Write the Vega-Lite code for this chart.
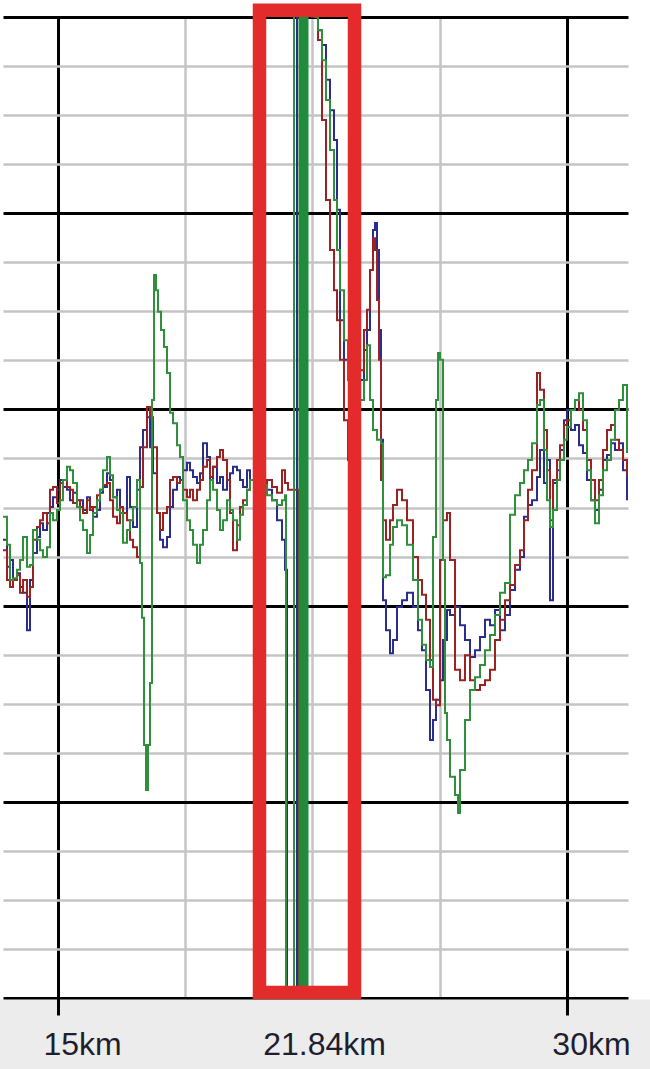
{
  "$schema": "https://vega.github.io/schema/vega-lite/v6.json",
  "width": 625,
  "height": 981,
  "autosize": {"type": "none"},
  "padding": {"left": 3, "top": 17, "right": 22, "bottom": 71},
  "background": "white",
  "config": {"view": {"stroke": null}},
  "resolve": {"axis": {"x": "independent", "y": "independent"}},
  "layer": [
    {
      "data": {"values": [{}]},
      "mark": {"type": "rect", "color": "#ececec"},
      "encoding": {
        "x": {
          "datum": 13.29,
          "type": "quantitative",
          "scale": {"domain": [13.379, 31.798], "nice": false, "zero": false},
          "axis": {
            "orient": "bottom",
            "values": [15, 21.84, 30],
            "grid": false,
            "domain": false,
            "ticks": true,
            "tickSize": 17,
            "tickWidth": 3,
            "tickColor": {"condition": {"test": "datum.value === 21.84", "value": "transparent"}, "value": "black"},
            "labelExpr": "datum.value + 'km'",
            "labelFont": "Liberation Sans",
            "labelFontSize": 32,
            "labelColor": "#1e1e2e",
            "labelPadding": 39,
            "labelBaseline": "alphabetic",
            "labelOffset": {"condition": {"test": "datum.value === 21.84", "value": 34}, "value": 24},
            "labelFlush": false,
            "labelOverlap": false,
            "labelBound": false,
            "title": null,
            "zindex": 1
          }
        },
        "x2": {"datum": 32.45},
        "y": {
          "datum": -0.032,
          "type": "quantitative",
          "scale": {"domain": [0, 20], "nice": false, "zero": false},
          "axis": null
        },
        "y2": {"datum": -1.45}
      }
    },
    {
      "data": {
        "values": [
          {"km": 13.379, "amp": 9.34, "trace": "blue"},
          {"km": 13.497, "amp": 8.79, "trace": "blue"},
          {"km": 13.585, "amp": 8.93, "trace": "blue"},
          {"km": 13.674, "amp": 8.52, "trace": "blue"},
          {"km": 13.792, "amp": 8.66, "trace": "blue"},
          {"km": 13.880, "amp": 8.38, "trace": "blue"},
          {"km": 13.969, "amp": 8.26, "trace": "blue"},
          {"km": 14.086, "amp": 7.50, "trace": "blue"},
          {"km": 14.175, "amp": 8.52, "trace": "blue"},
          {"km": 14.263, "amp": 9.07, "trace": "blue"},
          {"km": 14.381, "amp": 9.40, "trace": "blue"},
          {"km": 14.470, "amp": 9.68, "trace": "blue"},
          {"km": 14.558, "amp": 9.54, "trace": "blue"},
          {"km": 14.676, "amp": 9.89, "trace": "blue"},
          {"km": 14.764, "amp": 10.01, "trace": "blue"},
          {"km": 14.853, "amp": 10.21, "trace": "blue"},
          {"km": 14.971, "amp": 10.36, "trace": "blue"},
          {"km": 15.059, "amp": 10.56, "trace": "blue"},
          {"km": 15.147, "amp": 10.42, "trace": "blue"},
          {"km": 15.265, "amp": 10.36, "trace": "blue"},
          {"km": 15.354, "amp": 10.15, "trace": "blue"},
          {"km": 15.442, "amp": 10.30, "trace": "blue"},
          {"km": 15.560, "amp": 10.01, "trace": "blue"},
          {"km": 15.648, "amp": 10.15, "trace": "blue"},
          {"km": 15.737, "amp": 9.95, "trace": "blue"},
          {"km": 15.855, "amp": 10.21, "trace": "blue"},
          {"km": 15.943, "amp": 10.01, "trace": "blue"},
          {"km": 16.031, "amp": 9.81, "trace": "blue"},
          {"km": 16.149, "amp": 9.95, "trace": "blue"},
          {"km": 16.238, "amp": 10.30, "trace": "blue"},
          {"km": 16.326, "amp": 10.42, "trace": "blue"},
          {"km": 16.444, "amp": 10.70, "trace": "blue"},
          {"km": 16.532, "amp": 10.56, "trace": "blue"},
          {"km": 16.621, "amp": 10.21, "trace": "blue"},
          {"km": 16.739, "amp": 10.36, "trace": "blue"},
          {"km": 16.827, "amp": 10.01, "trace": "blue"},
          {"km": 16.915, "amp": 9.89, "trace": "blue"},
          {"km": 17.033, "amp": 10.62, "trace": "blue"},
          {"km": 17.122, "amp": 10.01, "trace": "blue"},
          {"km": 17.210, "amp": 9.60, "trace": "blue"},
          {"km": 17.328, "amp": 10.36, "trace": "blue"},
          {"km": 17.417, "amp": 11.23, "trace": "blue"},
          {"km": 17.505, "amp": 11.58, "trace": "blue"},
          {"km": 17.623, "amp": 11.84, "trace": "blue"},
          {"km": 17.711, "amp": 11.23, "trace": "blue"},
          {"km": 17.800, "amp": 10.70, "trace": "blue"},
          {"km": 17.918, "amp": 9.89, "trace": "blue"},
          {"km": 18.006, "amp": 9.34, "trace": "blue"},
          {"km": 18.094, "amp": 9.19, "trace": "blue"},
          {"km": 18.212, "amp": 9.40, "trace": "blue"},
          {"km": 18.301, "amp": 10.01, "trace": "blue"},
          {"km": 18.389, "amp": 10.36, "trace": "blue"},
          {"km": 18.507, "amp": 10.62, "trace": "blue"},
          {"km": 18.596, "amp": 10.56, "trace": "blue"},
          {"km": 18.684, "amp": 10.76, "trace": "blue"},
          {"km": 18.802, "amp": 10.91, "trace": "blue"},
          {"km": 18.890, "amp": 10.76, "trace": "blue"},
          {"km": 18.979, "amp": 10.62, "trace": "blue"},
          {"km": 19.097, "amp": 10.50, "trace": "blue"},
          {"km": 19.185, "amp": 10.70, "trace": "blue"},
          {"km": 19.273, "amp": 11.31, "trace": "blue"},
          {"km": 19.391, "amp": 11.03, "trace": "blue"},
          {"km": 19.480, "amp": 10.56, "trace": "blue"},
          {"km": 19.568, "amp": 10.83, "trace": "blue"},
          {"km": 19.686, "amp": 10.50, "trace": "blue"},
          {"km": 19.774, "amp": 10.62, "trace": "blue"},
          {"km": 19.863, "amp": 10.36, "trace": "blue"},
          {"km": 19.981, "amp": 10.56, "trace": "blue"},
          {"km": 20.069, "amp": 10.70, "trace": "blue"},
          {"km": 20.157, "amp": 10.83, "trace": "blue"},
          {"km": 20.275, "amp": 10.76, "trace": "blue"},
          {"km": 20.364, "amp": 10.56, "trace": "blue"},
          {"km": 20.452, "amp": 10.42, "trace": "blue"},
          {"km": 20.570, "amp": 10.76, "trace": "blue"},
          {"km": 20.658, "amp": 10.56, "trace": "blue"},
          {"km": 20.776, "amp": 10.76, "trace": "blue"},
          {"km": 20.894, "amp": 10.60, "trace": "blue"},
          {"km": 21.012, "amp": 10.56, "trace": "blue"},
          {"km": 21.160, "amp": 10.36, "trace": "blue"},
          {"km": 21.307, "amp": 10.15, "trace": "blue"},
          {"km": 21.454, "amp": 9.74, "trace": "blue"},
          {"km": 21.602, "amp": 9.34, "trace": "blue"},
          {"km": 21.690, "amp": 8.73, "trace": "blue"},
          {"km": 21.749, "amp": -1, "trace": "blue"},
          {"km": 22.043, "amp": 21, "trace": "blue"},
          {"km": 22.485, "amp": 20, "trace": "blue"},
          {"km": 22.662, "amp": 19.73, "trace": "blue"},
          {"km": 22.780, "amp": 19.43, "trace": "blue"},
          {"km": 22.898, "amp": 18.72, "trace": "blue"},
          {"km": 23.016, "amp": 18.10, "trace": "blue"},
          {"km": 23.134, "amp": 17.49, "trace": "blue"},
          {"km": 23.222, "amp": 16.07, "trace": "blue"},
          {"km": 23.311, "amp": 13.82, "trace": "blue"},
          {"km": 23.428, "amp": 13.01, "trace": "blue"},
          {"km": 23.546, "amp": 12.70, "trace": "blue"},
          {"km": 23.664, "amp": 12.19, "trace": "blue"},
          {"km": 23.782, "amp": 11.99, "trace": "blue"},
          {"km": 23.900, "amp": 12.60, "trace": "blue"},
          {"km": 24.018, "amp": 13.21, "trace": "blue"},
          {"km": 24.106, "amp": 13.62, "trace": "blue"},
          {"km": 24.195, "amp": 14.84, "trace": "blue"},
          {"km": 24.283, "amp": 15.66, "trace": "blue"},
          {"km": 24.342, "amp": 15.80, "trace": "blue"},
          {"km": 24.401, "amp": 15.25, "trace": "blue"},
          {"km": 24.460, "amp": 13.62, "trace": "blue"},
          {"km": 24.519, "amp": 11.38, "trace": "blue"},
          {"km": 24.578, "amp": 8.11, "trace": "blue"},
          {"km": 24.666, "amp": 7.50, "trace": "blue"},
          {"km": 24.784, "amp": 7.03, "trace": "blue"},
          {"km": 24.872, "amp": 7.30, "trace": "blue"},
          {"km": 24.990, "amp": 7.97, "trace": "blue"},
          {"km": 25.138, "amp": 8.11, "trace": "blue"},
          {"km": 25.285, "amp": 8.26, "trace": "blue"},
          {"km": 25.462, "amp": 7.97, "trace": "blue"},
          {"km": 25.609, "amp": 7.50, "trace": "blue"},
          {"km": 25.727, "amp": 7.09, "trace": "blue"},
          {"km": 25.845, "amp": 6.28, "trace": "blue"},
          {"km": 25.963, "amp": 5.26, "trace": "blue"},
          {"km": 26.051, "amp": 5.67, "trace": "blue"},
          {"km": 26.140, "amp": 6.08, "trace": "blue"},
          {"km": 26.258, "amp": 6.48, "trace": "blue"},
          {"km": 26.346, "amp": 7.30, "trace": "blue"},
          {"km": 26.464, "amp": 7.91, "trace": "blue"},
          {"km": 26.552, "amp": 7.81, "trace": "blue"},
          {"km": 26.700, "amp": 7.97, "trace": "blue"},
          {"km": 26.847, "amp": 7.60, "trace": "blue"},
          {"km": 26.994, "amp": 7.30, "trace": "blue"},
          {"km": 27.142, "amp": 6.95, "trace": "blue"},
          {"km": 27.289, "amp": 7.09, "trace": "blue"},
          {"km": 27.436, "amp": 7.36, "trace": "blue"},
          {"km": 27.584, "amp": 7.71, "trace": "blue"},
          {"km": 27.731, "amp": 7.60, "trace": "blue"},
          {"km": 27.878, "amp": 7.91, "trace": "blue"},
          {"km": 28.026, "amp": 7.50, "trace": "blue"},
          {"km": 28.173, "amp": 7.81, "trace": "blue"},
          {"km": 28.320, "amp": 8.32, "trace": "blue"},
          {"km": 28.468, "amp": 8.73, "trace": "blue"},
          {"km": 28.615, "amp": 8.99, "trace": "blue"},
          {"km": 28.733, "amp": 9.81, "trace": "blue"},
          {"km": 28.851, "amp": 10.05, "trace": "blue"},
          {"km": 28.969, "amp": 10.15, "trace": "blue"},
          {"km": 29.116, "amp": 10.62, "trace": "blue"},
          {"km": 29.205, "amp": 11.17, "trace": "blue"},
          {"km": 29.322, "amp": 10.50, "trace": "blue"},
          {"km": 29.411, "amp": 10.97, "trace": "blue"},
          {"km": 29.499, "amp": 8.11, "trace": "blue"},
          {"km": 29.588, "amp": 10.50, "trace": "blue"},
          {"km": 29.706, "amp": 10.76, "trace": "blue"},
          {"km": 29.794, "amp": 11.17, "trace": "blue"},
          {"km": 29.912, "amp": 11.78, "trace": "blue"},
          {"km": 30.000, "amp": 11.99, "trace": "blue"},
          {"km": 30.118, "amp": 11.58, "trace": "blue"},
          {"km": 30.236, "amp": 11.68, "trace": "blue"},
          {"km": 30.354, "amp": 11.27, "trace": "blue"},
          {"km": 30.472, "amp": 11.11, "trace": "blue"},
          {"km": 30.590, "amp": 10.56, "trace": "blue"},
          {"km": 30.708, "amp": 10.15, "trace": "blue"},
          {"km": 30.825, "amp": 9.95, "trace": "blue"},
          {"km": 30.943, "amp": 10.36, "trace": "blue"},
          {"km": 31.061, "amp": 10.97, "trace": "blue"},
          {"km": 31.179, "amp": 11.07, "trace": "blue"},
          {"km": 31.297, "amp": 11.31, "trace": "blue"},
          {"km": 31.415, "amp": 11.17, "trace": "blue"},
          {"km": 31.533, "amp": 11.31, "trace": "blue"},
          {"km": 31.651, "amp": 10.76, "trace": "blue"},
          {"km": 31.768, "amp": 10.15, "trace": "blue"},

          {"km": 13.379, "amp": 9.13, "trace": "red"},
          {"km": 13.497, "amp": 8.52, "trace": "red"},
          {"km": 13.585, "amp": 8.38, "trace": "red"},
          {"km": 13.674, "amp": 8.52, "trace": "red"},
          {"km": 13.792, "amp": 8.62, "trace": "red"},
          {"km": 13.880, "amp": 8.26, "trace": "red"},
          {"km": 13.969, "amp": 8.52, "trace": "red"},
          {"km": 14.086, "amp": 8.18, "trace": "red"},
          {"km": 14.175, "amp": 8.38, "trace": "red"},
          {"km": 14.263, "amp": 9.34, "trace": "red"},
          {"km": 14.381, "amp": 9.60, "trace": "red"},
          {"km": 14.470, "amp": 9.74, "trace": "red"},
          {"km": 14.558, "amp": 9.89, "trace": "red"},
          {"km": 14.676, "amp": 9.68, "trace": "red"},
          {"km": 14.764, "amp": 10.36, "trace": "red"},
          {"km": 14.853, "amp": 10.42, "trace": "red"},
          {"km": 14.971, "amp": 10.09, "trace": "red"},
          {"km": 15.059, "amp": 10.50, "trace": "red"},
          {"km": 15.147, "amp": 10.56, "trace": "red"},
          {"km": 15.265, "amp": 10.42, "trace": "red"},
          {"km": 15.354, "amp": 10.36, "trace": "red"},
          {"km": 15.442, "amp": 10.09, "trace": "red"},
          {"km": 15.560, "amp": 10.15, "trace": "red"},
          {"km": 15.648, "amp": 10.01, "trace": "red"},
          {"km": 15.737, "amp": 9.89, "trace": "red"},
          {"km": 15.855, "amp": 10.15, "trace": "red"},
          {"km": 15.943, "amp": 9.95, "trace": "red"},
          {"km": 16.031, "amp": 10.01, "trace": "red"},
          {"km": 16.149, "amp": 10.25, "trace": "red"},
          {"km": 16.238, "amp": 10.36, "trace": "red"},
          {"km": 16.326, "amp": 10.46, "trace": "red"},
          {"km": 16.444, "amp": 10.50, "trace": "red"},
          {"km": 16.532, "amp": 10.15, "trace": "red"},
          {"km": 16.621, "amp": 9.81, "trace": "red"},
          {"km": 16.739, "amp": 9.68, "trace": "red"},
          {"km": 16.827, "amp": 10.01, "trace": "red"},
          {"km": 16.915, "amp": 9.89, "trace": "red"},
          {"km": 17.033, "amp": 9.74, "trace": "red"},
          {"km": 17.122, "amp": 9.34, "trace": "red"},
          {"km": 17.210, "amp": 9.19, "trace": "red"},
          {"km": 17.328, "amp": 8.99, "trace": "red"},
          {"km": 17.417, "amp": 10.42, "trace": "red"},
          {"km": 17.505, "amp": 11.23, "trace": "red"},
          {"km": 17.623, "amp": 12.05, "trace": "red"},
          {"km": 17.711, "amp": 11.84, "trace": "red"},
          {"km": 17.800, "amp": 11.23, "trace": "red"},
          {"km": 17.918, "amp": 9.89, "trace": "red"},
          {"km": 18.006, "amp": 9.54, "trace": "red"},
          {"km": 18.094, "amp": 9.89, "trace": "red"},
          {"km": 18.212, "amp": 10.01, "trace": "red"},
          {"km": 18.301, "amp": 10.56, "trace": "red"},
          {"km": 18.389, "amp": 10.62, "trace": "red"},
          {"km": 18.507, "amp": 10.50, "trace": "red"},
          {"km": 18.596, "amp": 10.56, "trace": "red"},
          {"km": 18.684, "amp": 10.36, "trace": "red"},
          {"km": 18.802, "amp": 10.21, "trace": "red"},
          {"km": 18.890, "amp": 10.36, "trace": "red"},
          {"km": 18.979, "amp": 10.15, "trace": "red"},
          {"km": 19.097, "amp": 10.36, "trace": "red"},
          {"km": 19.185, "amp": 10.56, "trace": "red"},
          {"km": 19.273, "amp": 10.83, "trace": "red"},
          {"km": 19.391, "amp": 10.97, "trace": "red"},
          {"km": 19.480, "amp": 10.62, "trace": "red"},
          {"km": 19.568, "amp": 10.83, "trace": "red"},
          {"km": 19.686, "amp": 11.03, "trace": "red"},
          {"km": 19.774, "amp": 11.17, "trace": "red"},
          {"km": 19.863, "amp": 10.97, "trace": "red"},
          {"km": 19.981, "amp": 10.56, "trace": "red"},
          {"km": 20.069, "amp": 9.89, "trace": "red"},
          {"km": 20.157, "amp": 9.13, "trace": "red"},
          {"km": 20.275, "amp": 9.64, "trace": "red"},
          {"km": 20.364, "amp": 10.01, "trace": "red"},
          {"km": 20.452, "amp": 10.15, "trace": "red"},
          {"km": 20.570, "amp": 10.36, "trace": "red"},
          {"km": 20.658, "amp": 10.56, "trace": "red"},
          {"km": 20.776, "amp": 10.66, "trace": "red"},
          {"km": 20.894, "amp": 10.46, "trace": "red"},
          {"km": 21.012, "amp": 10.36, "trace": "red"},
          {"km": 21.160, "amp": 10.56, "trace": "red"},
          {"km": 21.307, "amp": 10.42, "trace": "red"},
          {"km": 21.454, "amp": 10.30, "trace": "red"},
          {"km": 21.602, "amp": 10.76, "trace": "red"},
          {"km": 21.690, "amp": 10.50, "trace": "red"},
          {"km": 21.778, "amp": 10.36, "trace": "red"},
          {"km": 22.102, "amp": -1, "trace": "red"},
          {"km": 22.161, "amp": 21, "trace": "red"},
          {"km": 22.544, "amp": 20, "trace": "red"},
          {"km": 22.662, "amp": 19.53, "trace": "red"},
          {"km": 22.780, "amp": 17.90, "trace": "red"},
          {"km": 22.898, "amp": 16.27, "trace": "red"},
          {"km": 23.016, "amp": 15.25, "trace": "red"},
          {"km": 23.134, "amp": 14.43, "trace": "red"},
          {"km": 23.222, "amp": 13.82, "trace": "red"},
          {"km": 23.311, "amp": 13.01, "trace": "red"},
          {"km": 23.428, "amp": 11.78, "trace": "red"},
          {"km": 23.546, "amp": 10.97, "trace": "red"},
          {"km": 23.664, "amp": 11.78, "trace": "red"},
          {"km": 23.782, "amp": 12.40, "trace": "red"},
          {"km": 23.900, "amp": 12.80, "trace": "red"},
          {"km": 24.018, "amp": 13.62, "trace": "red"},
          {"km": 24.106, "amp": 14.03, "trace": "red"},
          {"km": 24.195, "amp": 14.84, "trace": "red"},
          {"km": 24.283, "amp": 15.49, "trace": "red"},
          {"km": 24.342, "amp": 15.25, "trace": "red"},
          {"km": 24.401, "amp": 14.23, "trace": "red"},
          {"km": 24.460, "amp": 13.01, "trace": "red"},
          {"km": 24.519, "amp": 10.56, "trace": "red"},
          {"km": 24.578, "amp": 9.74, "trace": "red"},
          {"km": 24.666, "amp": 9.34, "trace": "red"},
          {"km": 24.784, "amp": 9.74, "trace": "red"},
          {"km": 24.872, "amp": 10.05, "trace": "red"},
          {"km": 24.990, "amp": 10.36, "trace": "red"},
          {"km": 25.138, "amp": 10.15, "trace": "red"},
          {"km": 25.285, "amp": 9.74, "trace": "red"},
          {"km": 25.462, "amp": 8.99, "trace": "red"},
          {"km": 25.609, "amp": 8.52, "trace": "red"},
          {"km": 25.727, "amp": 8.22, "trace": "red"},
          {"km": 25.845, "amp": 7.71, "trace": "red"},
          {"km": 25.963, "amp": 6.89, "trace": "red"},
          {"km": 26.051, "amp": 6.08, "trace": "red"},
          {"km": 26.140, "amp": 5.97, "trace": "red"},
          {"km": 26.258, "amp": 8.93, "trace": "red"},
          {"km": 26.346, "amp": 9.74, "trace": "red"},
          {"km": 26.464, "amp": 9.89, "trace": "red"},
          {"km": 26.552, "amp": 8.93, "trace": "red"},
          {"km": 26.700, "amp": 6.69, "trace": "red"},
          {"km": 26.847, "amp": 6.48, "trace": "red"},
          {"km": 26.994, "amp": 6.99, "trace": "red"},
          {"km": 27.142, "amp": 6.48, "trace": "red"},
          {"km": 27.289, "amp": 6.28, "trace": "red"},
          {"km": 27.436, "amp": 6.38, "trace": "red"},
          {"km": 27.584, "amp": 6.48, "trace": "red"},
          {"km": 27.731, "amp": 6.69, "trace": "red"},
          {"km": 27.878, "amp": 7.30, "trace": "red"},
          {"km": 28.026, "amp": 7.71, "trace": "red"},
          {"km": 28.173, "amp": 8.11, "trace": "red"},
          {"km": 28.320, "amp": 8.42, "trace": "red"},
          {"km": 28.468, "amp": 8.83, "trace": "red"},
          {"km": 28.615, "amp": 9.13, "trace": "red"},
          {"km": 28.733, "amp": 9.74, "trace": "red"},
          {"km": 28.851, "amp": 10.36, "trace": "red"},
          {"km": 28.969, "amp": 10.76, "trace": "red"},
          {"km": 29.116, "amp": 12.74, "trace": "red"},
          {"km": 29.205, "amp": 12.40, "trace": "red"},
          {"km": 29.322, "amp": 11.58, "trace": "red"},
          {"km": 29.411, "amp": 10.76, "trace": "red"},
          {"km": 29.499, "amp": 9.74, "trace": "red"},
          {"km": 29.588, "amp": 10.56, "trace": "red"},
          {"km": 29.706, "amp": 10.97, "trace": "red"},
          {"km": 29.794, "amp": 11.27, "trace": "red"},
          {"km": 29.912, "amp": 11.68, "trace": "red"},
          {"km": 30.000, "amp": 11.78, "trace": "red"},
          {"km": 30.118, "amp": 11.99, "trace": "red"},
          {"km": 30.236, "amp": 12.19, "trace": "red"},
          {"km": 30.354, "amp": 11.99, "trace": "red"},
          {"km": 30.472, "amp": 11.58, "trace": "red"},
          {"km": 30.590, "amp": 10.97, "trace": "red"},
          {"km": 30.708, "amp": 10.56, "trace": "red"},
          {"km": 30.825, "amp": 10.15, "trace": "red"},
          {"km": 30.943, "amp": 10.56, "trace": "red"},
          {"km": 31.061, "amp": 11.17, "trace": "red"},
          {"km": 31.179, "amp": 11.58, "trace": "red"},
          {"km": 31.297, "amp": 11.68, "trace": "red"},
          {"km": 31.415, "amp": 11.38, "trace": "red"},
          {"km": 31.533, "amp": 11.17, "trace": "red"},
          {"km": 31.651, "amp": 10.97, "trace": "red"},
          {"km": 31.768, "amp": 10.66, "trace": "red"},

          {"km": 13.379, "amp": 9.81, "trace": "green"},
          {"km": 13.497, "amp": 9.24, "trace": "green"},
          {"km": 13.585, "amp": 8.52, "trace": "green"},
          {"km": 13.674, "amp": 8.56, "trace": "green"},
          {"km": 13.792, "amp": 8.73, "trace": "green"},
          {"km": 13.880, "amp": 8.93, "trace": "green"},
          {"km": 13.969, "amp": 9.40, "trace": "green"},
          {"km": 14.086, "amp": 8.79, "trace": "green"},
          {"km": 14.175, "amp": 8.83, "trace": "green"},
          {"km": 14.263, "amp": 9.54, "trace": "green"},
          {"km": 14.381, "amp": 9.34, "trace": "green"},
          {"km": 14.470, "amp": 9.13, "trace": "green"},
          {"km": 14.558, "amp": 8.99, "trace": "green"},
          {"km": 14.676, "amp": 9.19, "trace": "green"},
          {"km": 14.764, "amp": 9.89, "trace": "green"},
          {"km": 14.853, "amp": 9.74, "trace": "green"},
          {"km": 14.971, "amp": 9.95, "trace": "green"},
          {"km": 15.059, "amp": 10.15, "trace": "green"},
          {"km": 15.147, "amp": 10.56, "trace": "green"},
          {"km": 15.265, "amp": 10.83, "trace": "green"},
          {"km": 15.354, "amp": 10.76, "trace": "green"},
          {"km": 15.442, "amp": 10.50, "trace": "green"},
          {"km": 15.560, "amp": 10.01, "trace": "green"},
          {"km": 15.648, "amp": 9.74, "trace": "green"},
          {"km": 15.737, "amp": 9.54, "trace": "green"},
          {"km": 15.855, "amp": 9.07, "trace": "green"},
          {"km": 15.943, "amp": 9.44, "trace": "green"},
          {"km": 16.031, "amp": 9.89, "trace": "green"},
          {"km": 16.149, "amp": 10.15, "trace": "green"},
          {"km": 16.238, "amp": 10.36, "trace": "green"},
          {"km": 16.326, "amp": 10.76, "trace": "green"},
          {"km": 16.444, "amp": 11.03, "trace": "green"},
          {"km": 16.532, "amp": 10.66, "trace": "green"},
          {"km": 16.621, "amp": 10.21, "trace": "green"},
          {"km": 16.739, "amp": 9.95, "trace": "green"},
          {"km": 16.827, "amp": 9.89, "trace": "green"},
          {"km": 16.915, "amp": 9.28, "trace": "green"},
          {"km": 17.033, "amp": 9.54, "trace": "green"},
          {"km": 17.122, "amp": 9.74, "trace": "green"},
          {"km": 17.210, "amp": 10.01, "trace": "green"},
          {"km": 17.328, "amp": 10.56, "trace": "green"},
          {"km": 17.417, "amp": 8.87, "trace": "green"},
          {"km": 17.475, "amp": 7.75, "trace": "green"},
          {"km": 17.534, "amp": 5.16, "trace": "green"},
          {"km": 17.593, "amp": 4.24, "trace": "green"},
          {"km": 17.652, "amp": 5.16, "trace": "green"},
          {"km": 17.711, "amp": 6.42, "trace": "green"},
          {"km": 17.770, "amp": 12.19, "trace": "green"},
          {"km": 17.829, "amp": 14.74, "trace": "green"},
          {"km": 17.888, "amp": 14.43, "trace": "green"},
          {"km": 17.947, "amp": 13.99, "trace": "green"},
          {"km": 18.035, "amp": 13.62, "trace": "green"},
          {"km": 18.124, "amp": 13.27, "trace": "green"},
          {"km": 18.212, "amp": 12.74, "trace": "green"},
          {"km": 18.301, "amp": 11.93, "trace": "green"},
          {"km": 18.389, "amp": 11.72, "trace": "green"},
          {"km": 18.507, "amp": 11.27, "trace": "green"},
          {"km": 18.596, "amp": 11.03, "trace": "green"},
          {"km": 18.684, "amp": 10.15, "trace": "green"},
          {"km": 18.802, "amp": 9.74, "trace": "green"},
          {"km": 18.890, "amp": 9.54, "trace": "green"},
          {"km": 18.979, "amp": 9.24, "trace": "green"},
          {"km": 19.097, "amp": 8.87, "trace": "green"},
          {"km": 19.185, "amp": 9.24, "trace": "green"},
          {"km": 19.273, "amp": 9.54, "trace": "green"},
          {"km": 19.391, "amp": 10.15, "trace": "green"},
          {"km": 19.480, "amp": 10.56, "trace": "green"},
          {"km": 19.568, "amp": 10.36, "trace": "green"},
          {"km": 19.686, "amp": 9.95, "trace": "green"},
          {"km": 19.774, "amp": 9.54, "trace": "green"},
          {"km": 19.863, "amp": 9.74, "trace": "green"},
          {"km": 19.981, "amp": 10.15, "trace": "green"},
          {"km": 20.069, "amp": 9.95, "trace": "green"},
          {"km": 20.157, "amp": 9.74, "trace": "green"},
          {"km": 20.275, "amp": 9.34, "trace": "green"},
          {"km": 20.364, "amp": 9.85, "trace": "green"},
          {"km": 20.452, "amp": 10.05, "trace": "green"},
          {"km": 20.570, "amp": 10.36, "trace": "green"},
          {"km": 20.658, "amp": 10.56, "trace": "green"},
          {"km": 20.776, "amp": 10.66, "trace": "green"},
          {"km": 20.894, "amp": 10.36, "trace": "green"},
          {"km": 21.012, "amp": 10.46, "trace": "green"},
          {"km": 21.160, "amp": 10.25, "trace": "green"},
          {"km": 21.307, "amp": 10.15, "trace": "green"},
          {"km": 21.454, "amp": 10.05, "trace": "green"},
          {"km": 21.602, "amp": 10.15, "trace": "green"},
          {"km": 21.690, "amp": 10.25, "trace": "green"},
          {"km": 21.719, "amp": -1, "trace": "green"},
          {"km": 21.955, "amp": 21, "trace": "green"},
          {"km": 22.603, "amp": 20, "trace": "green"},
          {"km": 22.662, "amp": 19.73, "trace": "green"},
          {"km": 22.780, "amp": 19.12, "trace": "green"},
          {"km": 22.898, "amp": 18.31, "trace": "green"},
          {"km": 23.016, "amp": 17.29, "trace": "green"},
          {"km": 23.134, "amp": 16.27, "trace": "green"},
          {"km": 23.222, "amp": 15.25, "trace": "green"},
          {"km": 23.311, "amp": 14.43, "trace": "green"},
          {"km": 23.428, "amp": 13.41, "trace": "green"},
          {"km": 23.546, "amp": 12.60, "trace": "green"},
          {"km": 23.664, "amp": 11.78, "trace": "green"},
          {"km": 23.782, "amp": 11.78, "trace": "green"},
          {"km": 23.900, "amp": 12.19, "trace": "green"},
          {"km": 24.018, "amp": 12.60, "trace": "green"},
          {"km": 24.106, "amp": 13.31, "trace": "green"},
          {"km": 24.195, "amp": 12.19, "trace": "green"},
          {"km": 24.283, "amp": 11.58, "trace": "green"},
          {"km": 24.401, "amp": 11.38, "trace": "green"},
          {"km": 24.519, "amp": 11.31, "trace": "green"},
          {"km": 24.578, "amp": 8.58, "trace": "green"},
          {"km": 24.666, "amp": 8.62, "trace": "green"},
          {"km": 24.784, "amp": 9.24, "trace": "green"},
          {"km": 24.872, "amp": 9.60, "trace": "green"},
          {"km": 24.990, "amp": 9.74, "trace": "green"},
          {"km": 25.138, "amp": 9.64, "trace": "green"},
          {"km": 25.285, "amp": 9.24, "trace": "green"},
          {"km": 25.462, "amp": 8.52, "trace": "green"},
          {"km": 25.609, "amp": 7.71, "trace": "green"},
          {"km": 25.727, "amp": 7.20, "trace": "green"},
          {"km": 25.845, "amp": 6.89, "trace": "green"},
          {"km": 25.963, "amp": 6.75, "trace": "green"},
          {"km": 26.051, "amp": 9.40, "trace": "green"},
          {"km": 26.140, "amp": 12.19, "trace": "green"},
          {"km": 26.199, "amp": 13.15, "trace": "green"},
          {"km": 26.258, "amp": 13.01, "trace": "green"},
          {"km": 26.346, "amp": 8.93, "trace": "green"},
          {"km": 26.405, "amp": 5.81, "trace": "green"},
          {"km": 26.464, "amp": 5.26, "trace": "green"},
          {"km": 26.552, "amp": 4.51, "trace": "green"},
          {"km": 26.700, "amp": 4.14, "trace": "green"},
          {"km": 26.788, "amp": 3.77, "trace": "green"},
          {"km": 26.847, "amp": 4.65, "trace": "green"},
          {"km": 26.994, "amp": 5.67, "trace": "green"},
          {"km": 27.142, "amp": 6.28, "trace": "green"},
          {"km": 27.289, "amp": 6.54, "trace": "green"},
          {"km": 27.436, "amp": 6.79, "trace": "green"},
          {"km": 27.584, "amp": 7.09, "trace": "green"},
          {"km": 27.731, "amp": 7.40, "trace": "green"},
          {"km": 27.878, "amp": 7.81, "trace": "green"},
          {"km": 28.026, "amp": 8.26, "trace": "green"},
          {"km": 28.173, "amp": 8.46, "trace": "green"},
          {"km": 28.320, "amp": 9.85, "trace": "green"},
          {"km": 28.468, "amp": 10.25, "trace": "green"},
          {"km": 28.615, "amp": 10.50, "trace": "green"},
          {"km": 28.733, "amp": 10.76, "trace": "green"},
          {"km": 28.851, "amp": 10.97, "trace": "green"},
          {"km": 28.969, "amp": 11.31, "trace": "green"},
          {"km": 29.116, "amp": 12.09, "trace": "green"},
          {"km": 29.205, "amp": 12.19, "trace": "green"},
          {"km": 29.322, "amp": 11.17, "trace": "green"},
          {"km": 29.411, "amp": 10.15, "trace": "green"},
          {"km": 29.499, "amp": 9.60, "trace": "green"},
          {"km": 29.588, "amp": 9.95, "trace": "green"},
          {"km": 29.706, "amp": 10.56, "trace": "green"},
          {"km": 29.794, "amp": 10.97, "trace": "green"},
          {"km": 29.912, "amp": 11.38, "trace": "green"},
          {"km": 30.000, "amp": 11.64, "trace": "green"},
          {"km": 30.118, "amp": 11.99, "trace": "green"},
          {"km": 30.236, "amp": 12.19, "trace": "green"},
          {"km": 30.354, "amp": 12.33, "trace": "green"},
          {"km": 30.472, "amp": 11.78, "trace": "green"},
          {"km": 30.590, "amp": 10.76, "trace": "green"},
          {"km": 30.708, "amp": 10.15, "trace": "green"},
          {"km": 30.825, "amp": 9.68, "trace": "green"},
          {"km": 30.943, "amp": 10.25, "trace": "green"},
          {"km": 31.061, "amp": 10.76, "trace": "green"},
          {"km": 31.179, "amp": 10.97, "trace": "green"},
          {"km": 31.297, "amp": 11.38, "trace": "green"},
          {"km": 31.415, "amp": 11.99, "trace": "green"},
          {"km": 31.533, "amp": 12.19, "trace": "green"},
          {"km": 31.651, "amp": 12.50, "trace": "green"},
          {"km": 31.768, "amp": 11.11, "trace": "green"}
        ]
      },
      "mark": {"type": "line", "interpolate": "step-after", "strokeWidth": 2, "clip": true},
      "encoding": {
        "x": {
          "field": "km",
          "type": "quantitative",
          "scale": {"domain": [13.379, 31.798], "nice": false, "zero": false},
          "axis": {
            "orient": "top",
            "values": [15, 18.75, 22.5, 26.25, 30],
            "grid": true,
            "gridColor": {"condition": {"test": "datum.value === 15 || datum.value === 30", "value": "black"}, "value": "#c4c4c4"},
            "gridWidth": {"condition": {"test": "datum.value === 15 || datum.value === 30", "value": 3}, "value": 2.5},
            "gridOpacity": 1,
            "ticks": false,
            "labels": false,
            "domain": false,
            "title": null,
            "zindex": 0
          }
        },
        "y": {
          "field": "amp",
          "type": "quantitative",
          "scale": {"domain": [0, 20], "nice": false, "zero": false},
          "axis": {
            "orient": "left",
            "values": [0, 1, 2, 3, 4, 5, 6, 7, 8, 9, 10, 11, 12, 13, 14, 15, 16, 17, 18, 19, 20],
            "grid": true,
            "gridColor": {"condition": {"test": "datum.value % 4 === 0", "value": "black"}, "value": "#c4c4c4"},
            "gridWidth": {"condition": {"test": "datum.value % 4 === 0", "value": 3}, "value": 2.5},
            "gridOpacity": 1,
            "ticks": false,
            "labels": false,
            "domain": false,
            "title": null,
            "zindex": 0
          }
        },
        "color": {
          "field": "trace",
          "type": "nominal",
          "scale": {"domain": ["red", "blue", "green"], "range": ["#9a2222", "#2b2d8c", "#2f8f3a"]},
          "legend": null
        }
      }
    },
    {
      "data": {"values": [{"km": 22.235}]},
      "mark": {"type": "rule", "color": "#1f8b3b", "strokeWidth": 10},
      "encoding": {
        "x": {
          "field": "km",
          "type": "quantitative",
          "scale": {"domain": [13.379, 31.798], "nice": false, "zero": false},
          "axis": null
        }
      }
    },
    {
      "data": {"values": [{"start": 20.938, "end": 23.738}]},
      "mark": {"type": "rect", "filled": false, "color": "#e42b2b", "strokeWidth": 13.5, "strokeJoin": "miter"},
      "encoding": {
        "x": {
          "field": "start",
          "type": "quantitative",
          "scale": {"domain": [13.379, 31.798], "nice": false, "zero": false},
          "axis": null
        },
        "x2": {"field": "end"},
        "y": {
          "datum": 20.14,
          "type": "quantitative",
          "scale": {"domain": [0, 20], "nice": false, "zero": false},
          "axis": null
        },
        "y2": {"datum": 0.11}
      }
    }
  ]
}
